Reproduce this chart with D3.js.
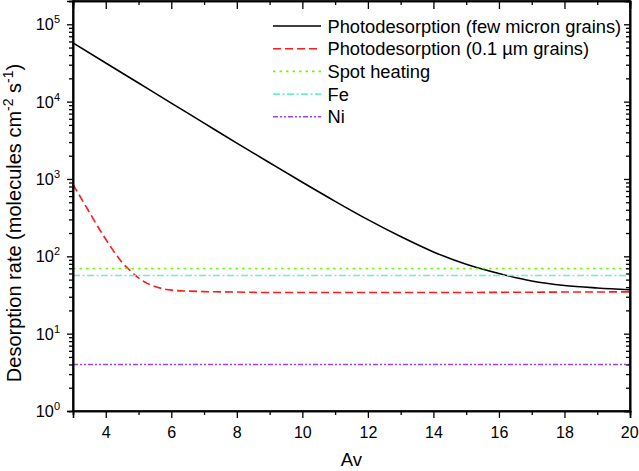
<!DOCTYPE html>
<html>
<head>
<meta charset="utf-8">
<script src="https://cdn.jsdelivr.net/npm/d3@7"></script>
<style>
  body { margin: 0; background: #fff; }
  svg { font-family: "Liberation Sans", Arial, sans-serif; }
</style>
</head>
<body>
<svg id="chart"></svg>
<script>
// Av values and desorption rates
const avFew = [3, 4, 5, 6, 7, 8, 9, 10, 11, 12, 13, 14, 15, 16, 17, 18, 19, 20];
const rateFew = [57500, 31600, 17400, 9580, 5280, 2910, 1620, 906, 514, 298, 180, 114, 79, 60, 48, 42, 39, 37];

const avSmall = [3, 3.25, 3.5, 3.75, 4, 4.25, 4.5, 4.75, 5, 5.25, 5.5, 5.75, 6, 6.5, 7, 8, 9, 10, 12, 14, 16, 18, 20];
const rateSmall = [850, 562, 372, 245, 166, 115, 83, 65, 52.5, 45, 40.7, 38, 36.5, 35.5, 35, 34.5, 34, 34, 34, 34, 34.2, 34.5, 34.7];

const spotHeating = 69.5;
const feRate = 56.5;
const niRate = 4.0;

const xTicks = [4, 6, 8, 10, 12, 14, 16, 18, 20];
const yDecades = [0, 1, 2, 3, 4, 5];

const series = [
  {name: "Photodesorption (few micron grains)", color: "#000000", dash: null, width: 1.6,
   pts: avFew.map((a, i) => [a, rateFew[i]])},
  {name: "Photodesorption (0.1 \u00b5m grains)", color: "#ff1a1a", dash: "8,4", width: 1.6,
   pts: avSmall.map((a, i) => [a, rateSmall[i]])},
  {name: "Spot heating", color: "#66ff00", dash: "2.5,4", width: 1.6,
   pts: [[3, spotHeating], [20, spotHeating]]},
  {name: "Fe", color: "#66f0d8", dash: "7,2.5,2,2.5", width: 1.6,
   pts: [[3, feRate], [20, feRate]]},
  {name: "Ni", color: "#a040ff", dash: "5,2,2,2,2,2", width: 1.6,
   pts: [[3, niRate], [20, niRate]]}
];

const size = {width: 639, height: 471};
const margin = {top: 1, right: 9, bottom: 60, left: 73};
const w = size.width - margin.left - margin.right;
const h = size.height - margin.top - margin.bottom;

const svg = d3.select("#chart")
  .attr("width", size.width)
  .attr("height", size.height);

const g = svg.append("g")
  .attr("transform", "translate(" + margin.left + "," + margin.top + ")");

const x = d3.scaleLinear().domain([3, 20]).range([0, w]);
const y = d3.scaleLog().domain([1, 2e5]).range([h, 0]);

const line = d3.line()
  .x(d => x(d[0]))
  .y(d => y(d[1]))
  .curve(d3.curveMonotoneX);

// curves
g.append("g")
  .selectAll("path")
  .data(series)
  .enter().append("path")
  .attr("d", d => line(d.pts))
  .attr("fill", "none")
  .attr("stroke", d => d.color)
  .attr("stroke-width", d => d.width)
  .attr("stroke-dasharray", d => d.dash);

// minor tick values
const xMinor = d3.range(3, 20.01, 1).filter(v => v % 2 === 1);
const yMinor = [];
yDecades.forEach(function(e) {
  for (let k = 2; k <= 9; k++) {
    const v = k * Math.pow(10, e);
    if (v <= 2e5) yMinor.push(v);
  }
});

// bottom axis (ticks out)
const bottom = g.append("g")
  .attr("transform", "translate(0," + h + ")")
  .call(d3.axisBottom(x).tickValues(xTicks).tickSize(7).tickFormat(d3.format("d")));
g.append("g")
  .attr("transform", "translate(0," + h + ")")
  .call(d3.axisBottom(x).tickValues(xMinor).tickSize(4).tickFormat(""));

// top axis mirrored (ticks pointing down, inside)
g.append("g")
  .call(d3.axisBottom(x).tickValues(xTicks).tickSize(8).tickFormat(""));
g.append("g")
  .call(d3.axisBottom(x).tickValues(xMinor).tickSize(4).tickFormat(""));

// left axis (ticks out)
g.append("g")
  .call(d3.axisLeft(y).tickValues(yDecades.map(e => Math.pow(10, e))).tickSize(6).tickFormat(""));
g.append("g")
  .call(d3.axisLeft(y).tickValues(yMinor).tickSize(4).tickFormat(""));

// right axis mirrored (ticks pointing left, inside)
g.append("g")
  .attr("transform", "translate(" + w + ",0)")
  .call(d3.axisLeft(y).tickValues(yDecades.map(e => Math.pow(10, e))).tickSize(6).tickFormat(""));
g.append("g")
  .attr("transform", "translate(" + w + ",0)")
  .call(d3.axisLeft(y).tickValues(yMinor).tickSize(4).tickFormat(""));

g.selectAll(".domain").attr("stroke", "#000").attr("stroke-width", 1.6);
g.selectAll(".tick line").attr("stroke", "#000").attr("stroke-width", 1.3);

bottom.selectAll(".tick text")
  .attr("font-size", 16)
  .attr("font-family", "Liberation Sans, Arial, sans-serif")
  .attr("fill", "#000")
  .attr("dy", "1.05em");
bottom.selectAll(".tick").filter(d => d === 20).select("text").attr("dx", "-0.05em");

// y decade labels 10^n
yDecades.forEach(function(e) {
  const t = g.append("text")
    .attr("x", -13)
    .attr("y", y(Math.pow(10, e)) + 6)
    .attr("text-anchor", "end")
    .attr("font-size", 16.3)
    .attr("fill", "#000");
  t.append("tspan").text("10");
  t.append("tspan").attr("dy", -7).attr("font-size", 11).text(e);
});

// plot frame
g.append("rect")
  .attr("width", w)
  .attr("height", h)
  .attr("fill", "none")
  .attr("stroke", "#000")
  .attr("stroke-width", 1.6);

// axis titles
svg.append("text")
  .attr("x", margin.left + w / 2)
  .attr("y", 466)
  .attr("text-anchor", "middle")
  .attr("font-size", 18.5)
  .text("Av");

const yt = svg.append("text")
  .attr("transform", "translate(21,223) rotate(-90)")
  .attr("text-anchor", "middle")
  .attr("font-size", 20);
yt.append("tspan").text("Desorption rate (molecules cm");
yt.append("tspan").attr("dy", -8).attr("font-size", 14).text("-2");
yt.append("tspan").attr("dy", 8).text(" s");
yt.append("tspan").attr("dy", -8).attr("font-size", 14).text("-1");
yt.append("tspan").attr("dy", 8).text(")");

// Legend
const legend = svg.append("g")
  .selectAll("g")
  .data(series)
  .enter().append("g")
  .attr("transform", (d, i) => "translate(273," + (26 + i * 22.7) + ")");

legend.append("line")
  .attr("x1", 0)
  .attr("x2", 48)
  .attr("stroke", d => d.color)
  .attr("stroke-width", d => d.width)
  .attr("stroke-dasharray", d => d.dash);

legend.append("text")
  .attr("x", 54.5)
  .attr("y", 6.5)
  .attr("font-size", 18.3)
  .attr("fill", "#000")
  .text(d => d.name);
</script>
</body>
</html>
